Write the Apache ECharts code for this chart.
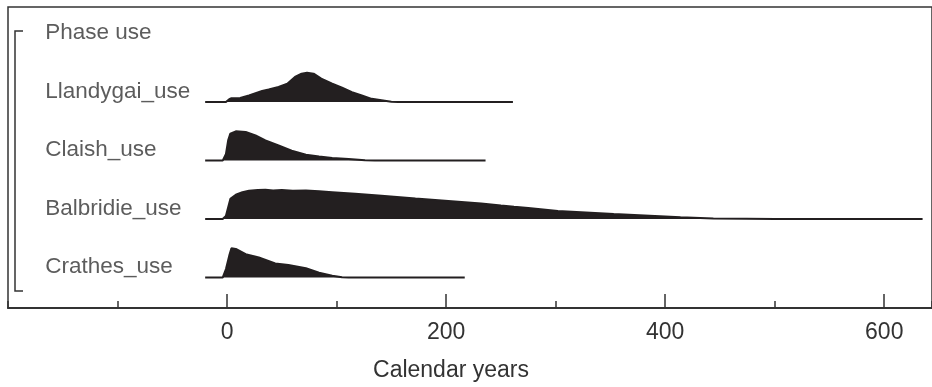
<!DOCTYPE html>
<html>
<head>
<meta charset="utf-8">
<script src="https://cdn.jsdelivr.net/npm/echarts@6/dist/echarts.min.js"></script>
<style>
  html, body { margin: 0; padding: 0; background: #fff; }
  #chart { width: 932px; height: 387px; }
</style>
</head>
<body>
<div id="chart"></div>
<script>
// row names, bottom to top
var rowNames = ["Crathes_use", "Balbridie_use", "Claish_use", "Llandygai_use", "Phase use"];
var xTicks = [0, 200, 400, 600];

// [calendar year, relative probability]
var crathes = [[-20, 0], [-4, 0], [-1, 0.29], [2, 0.75], [4, 1], [8, 0.98], [17, 0.8], [29, 0.69],
  [44, 0.48], [56, 0.43], [72, 0.32], [84, 0.17], [96, 0.06], [105, 0.01], [111, 0], [217, 0]];
var balbridie = [[-20, 0], [-4, 0], [-1, 0.11], [3, 0.69], [8, 0.83], [14, 0.92], [20, 0.97], [28, 0.99],
  [35, 1], [42, 0.98], [50, 0.99], [60, 0.97], [72, 0.98], [84, 0.95], [96, 0.92], [117, 0.87],
  [141, 0.8], [172, 0.7], [202, 0.62], [232, 0.53], [250, 0.46], [262, 0.42], [275, 0.38],
  [302, 0.28], [353, 0.17], [414, 0.06], [444, 0.02], [474, 0.01], [500, 0], [635, 0]];
var claish = [[-20, 0], [-4, 0], [-1, 0.23], [1, 0.69], [3, 0.92], [8, 1], [17, 0.98], [26, 0.86],
  [35, 0.69], [47, 0.52], [59, 0.34], [72, 0.2], [84, 0.14], [96, 0.09], [111, 0.05],
  [126, 0.01], [135, 0], [236, 0]];
var llandygai = [[-20, 0], [-1, 0], [2, 0.1], [4, 0.13], [12, 0.14], [20, 0.23], [32, 0.38],
  [38, 0.43], [47, 0.52], [55, 0.63], [62, 0.86], [68, 0.97], [73, 1], [79, 0.97], [86, 0.8],
  [96, 0.63], [105, 0.49], [114, 0.34], [123, 0.23], [132, 0.11], [141, 0.06], [150, 0.01],
  [156, 0], [261, 0]];

var rows = [crathes, balbridie, claish, llandygai];

var ink = "#231f20";
var textColor = "#333";
var fontFam = "'Liberation Sans', Arial, sans-serif";
var peak = 0.5; // height of a full peak in row units
var labelYear = -166;

var chart = echarts.init(document.getElementById("chart"));

var series = rows.map(function (pts, i) {
  return {
    type: "line",
    xAxisIndex: 0,
    symbol: "none",
    smooth: false,
    data: pts.map(function (p) { return [p[0], i + p[1] * peak]; }),
    lineStyle: { color: ink, width: 2 },
    areaStyle: { color: ink, opacity: 1, origin: i },
    z: 3,
  };
});

// row labels
series.push({
  type: "scatter",
  symbolSize: 0,
  data: rowNames.map(function (n, i) { return [labelYear, i + 0.18, n]; }),
  label: {
    show: true,
    position: "right",
    distance: 0,
    formatter: function (p) { return p.value[2]; },
    color: textColor,
    fontSize: 22.5,
    fontFamily: fontFam,
  },
  silent: true,
});

chart.setOption({
  animation: false,
  grid: {
    left: 8,
    right: -4,
    top: 7,
    bottom: 78,
    show: true,
    borderColor: "#333",
    borderWidth: 1.5,
  },
  xAxis: [
    {
      type: "value",
      min: -200,
      max: 643.6,
      interval: 200,
      name: "Calendar years",
      nameLocation: "middle",
      nameGap: 51,
      nameTextStyle: { color: textColor, fontSize: 23, fontFamily: fontFam, padding: [0, 38, 0, 0] },
      axisLine: { show: true, onZero: false, lineStyle: { color: "#333", width: 2 } },
      axisTick: { show: true, inside: true, length: 14, lineStyle: { color: "#333", width: 1.5 } },
      axisLabel: {
        show: true,
        margin: 13,
        showMinLabel: false,
        showMaxLabel: false,
        color: textColor,
        fontSize: 23,
        fontFamily: fontFam,
        formatter: function (v) { return xTicks.indexOf(v) >= 0 ? String(v) : ""; },
      },
      splitLine: { show: false },
    },
    {
      type: "value",
      position: "bottom",
      min: -200,
      max: 643.6,
      interval: 100,
      axisLine: { show: false, onZero: false },
      axisTick: { show: true, inside: true, length: 7, lineStyle: { color: "#333", width: 1.5 } },
      axisLabel: { show: false },
      splitLine: { show: false },
    },
  ],
  yAxis: {
    type: "value",
    min: -0.52,
    max: 4.625,
    show: false,
  },
  graphic: [
    {
      type: "polyline",
      shape: { points: [[23, 31], [15, 31], [15, 291], [23, 291]] },
      style: { stroke: "#333", lineWidth: 1.5, fill: null },
    },
  ],
  series: series,
});
</script>
</body>
</html>
